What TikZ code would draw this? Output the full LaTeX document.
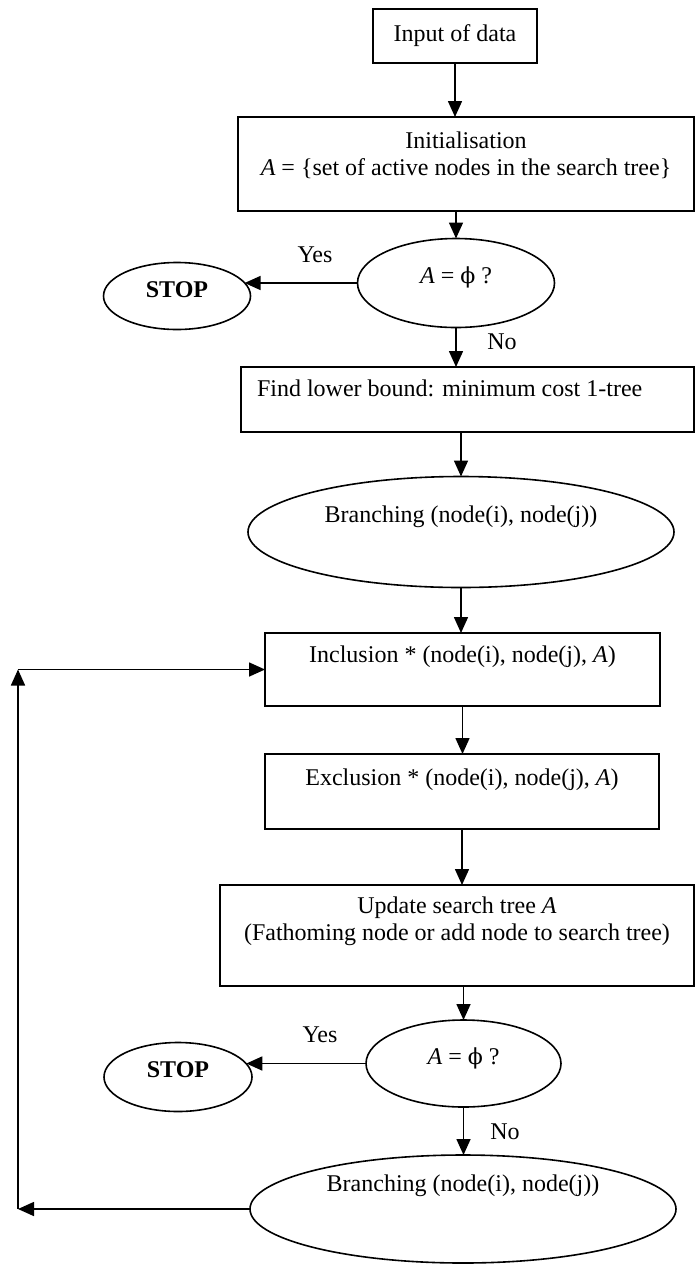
\documentclass[tikz,border=0pt]{standalone}
\usepackage{fontspec}
\setmainfont{Liberation Serif}
\newfontfamily\phifont[Scale=0.92]{DejaVu Serif}
\newcommand{\nullset}{{\phifont ϕ}}
\usetikzlibrary{shapes.geometric,arrows.meta}
\begin{document}
\begin{tikzpicture}[x=0.5pt,y=-0.5pt,
  font=\fontsize{12}{13.5}\selectfont,
  every node/.style={inner sep=0pt, outer sep=0pt},
  box/.style={draw, line width=0.8pt, rectangle},
  oval/.style={draw, line width=0.8pt, ellipse},
  arr/.style={line width=0.8pt, -{Triangle[length=8pt,width=7pt]}}]
\useasboundingbox (0,0) rectangle (695,1265);

% process steps and decisions
\node[box, minimum width=82pt, minimum height=27pt] (inp) at (455,36) {Input of data};
\node[box, minimum width=228pt, minimum height=47pt,
      label={[yshift=4.5pt, align=center]center:{Initialisation\\\textit{A} = \{set of active nodes in the search tree\}}}]
      (init) at (466,164) {};
\node[oval, minimum width=98.5pt, minimum height=44.5pt,
      label={[yshift=3pt]center:{\textit{A} = \nullset\ ?}}] (dec1) at (456,283) {};
\node[oval, minimum width=73.5pt, minimum height=33.5pt,
      label={[yshift=3pt]center:{\bfseries STOP}}] (stop1) at (177,296) {};
\node (yes1) at (315,255) {Yes};
\node (no1) at (502,342) {No};
\node[box, minimum width=226.5pt, minimum height=32.5pt,
      label={[anchor=west, xshift=8pt, yshift=5.75pt]west:{Find lower bound: minimum cost 1-tree}}]
      (find) at (467.5,399.5) {};
\node[oval, minimum width=213pt, minimum height=55.5pt,
      label={[yshift=7.5pt]center:{Branching (node(i), node(j))}}] (branch1) at (461,532) {};
\node[box, minimum width=197.5pt, minimum height=36.5pt,
      label={[yshift=6.25pt]center:{Inclusion * (node(i), node(j), \textit{A})}}] (incl) at (462.5,669.5) {};
\node[box, minimum width=197pt, minimum height=37.5pt,
      label={[yshift=5.75pt]center:{Exclusion * (node(i), node(j), \textit{A})}}] (excl) at (462,791.5) {};
\node[box, minimum width=237pt, minimum height=50.5pt,
      label={[yshift=7pt, align=center]center:{Update search tree \textit{A}\\(Fathoming node or add node to search tree)}}]
      (upd) at (457,935.5) {};
\node[oval, minimum width=97.5pt, minimum height=43.5pt,
      label={[yshift=2.75pt]center:{\textit{A} = \nullset\ ?}}] (dec2) at (463.5,1063.5) {};
\node[oval, minimum width=74pt, minimum height=34.5pt,
      label={[yshift=3.5pt]center:{\bfseries STOP}}] (stop2) at (178,1077) {};
\node (yes2) at (320,1035) {Yes};
\node (no2) at (505,1132) {No};
\node[oval, minimum width=213pt, minimum height=54pt,
      label={[yshift=11.5pt]center:{Branching (node(i), node(j))}}] (branch2) at (463,1209) {};

% column of the return path on the left
\coordinate (fbx) at (18,0);

% connectors
\draw[arr] (inp.south) -- (inp.south |- init.north);
\draw[arr] (init.south -| dec1.north) -- (dec1.north);
\draw[arr] (dec1.west) -- (stop1.11 |- dec1.west);
\draw[arr] (dec1.south) -- (dec1.south |- find.north);
\draw[arr] (find.south -| branch1.north) -- (branch1.north);
\draw[arr] (branch1.south) -- (branch1.south |- incl.north);
\draw[arr] (incl.south) -- (incl.south |- excl.north);
\draw[arr] (excl.south) -- (excl.south |- upd.north);
\draw[arr] (upd.south -| dec2.north) -- (dec2.north);
\draw[arr] (dec2.west) -- (stop2.11 |- dec2.west);
\draw[arr] (dec2.south) -- (dec2.south |- branch2.north);
\draw[arr] (branch2.west) -- (branch2.west -| fbx);
\draw[arr] (branch2.west -| fbx) -- (incl.west -| fbx);
\draw[arr] (incl.west -| fbx) -- (incl.west);
\end{tikzpicture}
\end{document}
